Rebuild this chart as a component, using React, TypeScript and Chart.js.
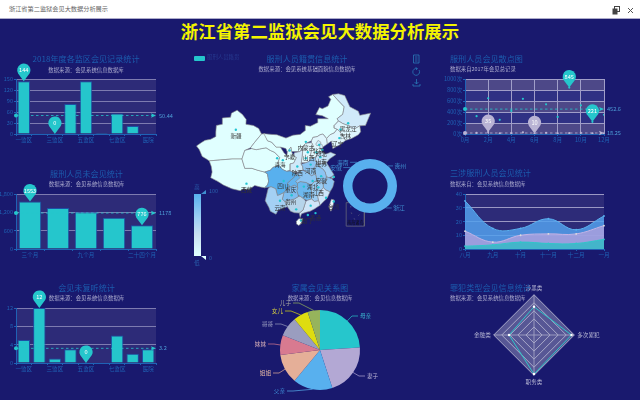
import React, { useEffect, useRef } from "react";
import { Chart, registerables } from "chart.js";

Chart.register(...registerables);

const FONT = '"Noto Sans CJK SC", "Noto Sans", sans-serif';
const BG = "#19196e";
const PLOT_BG = "#2d2b78";
const GRID = "#7d7bb0";
const TICK = "#1f62b5";
const TEAL = "#25c6cc";
const SILVER = "#b9b3d4";
const AXIS_FONT = { size: 5.6, family: FONT };

// ---------- data ----------
const PAGE_TITLE = "浙江省第二监狱会见大数据分析展示";
const WINDOW_TITLE = "浙江省第二监狱会见大数据分析展示";

const WARDS = ["一监区", "二监区", "三监区", "四监区", "五监区", "六监区", "七监区", "八监区", "医院"];
const WARD_VISITS = [144, 2, 0, 82, 144, 3, 56, 22, 1];
const WARD_VISITS_MEAN = 50.44;
const WARD_VISITS_TICKS = { max: 150, step: 30 };

const NO_VISIT_PERIODS = ["三个月", "六个月", "九个月", "十二个月", "二十四个月"];
const NO_VISIT_COUNTS = [1553, 1340, 1200, 1021, 776];
const NO_VISIT_MEAN = 1178;

const UNHEARD_COUNTS = [5, 12, 1, 3, 0, 0, 6, 2, 3];
const UNHEARD_MEAN = 3.2;

const MONTHS = [1, 2, 3, 4, 5, 6, 7, 8, 9, 10, 11, 12];
const SCATTER_HIGH = [325, 650, 258, 420, 640, 300, 540, 310, 845, 520, 221, 350];
const SCATTER_LOW = [20, 35, 12, 15, 30, 10, 22, 14, 18, 20, 12, 11];
const SCATTER_HIGH_MEAN = 452.6;
const SCATTER_LOW_MEAN = 18.25;

const AREA_MONTHS = ["八月", "九月", "十月", "十一月", "十二月", "一月"];
const AREA_BLUE = [35, 15, 15, 22, 14, 24];
const AREA_PURPLE = [13, 5, 10, 11, 11, 17];
const AREA_TEAL = [2, 3, 5, 4, 4, 7];

const CRIME_TYPES = ["涉黑类", "多次累犯", "职务类", "金融类"];
const CRIME_VALUES = [70, 93, 97, 62];

const RELATIONS = ["母亲", "妻子", "父亲", "姐姐", "妹妹", "哥哥", "女儿", "儿子"];
const RELATION_SHARE = [24, 21, 16, 12, 8, 8, 6, 5];
const RELATION_COLORS = ["#26c6cc", "#b3a8d4", "#58b0ee", "#e5af98", "#d87a90", "#9a9dbf", "#dedc10", "#96b45c"];
const RELATION_TEXT = ["#3cb8d0", "#b9b3d4", "#3f8fd8", "#e5b8a4", "#d8b0b8", "#a0a3c4", "#d8d040", "#a8a8a0"];

const RING_NAMES = ["海南", "安徽", "贵州", "浙江"];
const RING_VALUES = [0, 0, 0, 100];

// map outlines, [longitude, latitude]
const XINJIANG = [[73.5,39.5],[75,40.3],[76.5,41],[78.5,41.3],[80.2,42],[80.3,43.2],[80.5,45],[82.5,45.3],[82.6,47],[85.5,47.2],[85.8,48.3],[87.8,49.1],[89.7,47.9],[91,46.6],[90.9,45.3],[93.5,45],[95.4,44.2],[96.4,42.7],[94,40.5],[92.5,39],[90.5,38.3],[89.5,36],[86,36],[81,35.7],[78,35.5],[77,36],[75.5,36.7],[74.5,38.5]];
const TIBET = [[78.7,34],[79,32.5],[78.5,31],[81,30],[83,29],[86,28],[88.9,27.5],[90,28],[92,27.8],[94,28.9],[96,28.5],[97.5,28.3],[98.5,29],[98.9,30],[98.5,32],[97.5,32.5],[95,33],[93,33.5],[90.5,33.5],[89.5,36],[86,36],[81,35.7],[78,35.5]];
const QINGHAI = [[89.5,36],[90.5,38.3],[93,38.8],[94.5,38.5],[96.5,38.8],[98,39],[99.5,38.3],[101,37.8],[102.8,36.4],[102.4,35.5],[102.4,34.4],[101.5,34],[100.5,33.8],[99.5,33],[97.5,32.5],[95,33],[93,33.5],[90.5,33.5]];
const GANSU = [[92.5,39],[94,40.5],[96.4,42.7],[97.5,42.8],[98.5,40.9],[100,40.5],[101.5,39.2],[103,39.2],[104.3,37.7],[105.3,36.9],[106,36],[107.5,36.9],[108.7,36.4],[107.7,34.9],[106.5,34.7],[106.5,33],[105.2,32.7],[103.8,33.2],[102.4,34.4],[102.4,35.5],[102.8,36.4],[101,37.8],[99.5,38.3],[98,39],[96.5,38.8],[94.5,38.5],[93,38.8]];
const INNER_MONGOLIA = [[97.2,42.8],[100,42.6],[101.8,42.5],[105,41.6],[107.5,42.4],[110,42.6],[111.9,43.7],[111.8,45],[113.6,44.8],[116,45.7],[116.2,46.8],[119.9,46.8],[117.8,47.6],[115.5,47.9],[116.8,49.8],[117.8,49.5],[119.8,50.2],[120.8,52],[120,52.7],[121.5,53.3],[123,52],[125.5,50],[125,48],[123,46.8],[123.5,46.2],[122,45],[122,44.3],[123,44],[122,43],[120.5,42.5],[119.3,41.5],[118,42.7],[117,42.5],[116,42],[114.5,41.8],[114,40.9],[112,40.2],[111,39.4],[110,38],[107,38],[106.7,39.2],[105.5,37.8],[105,38.8],[103,39.2],[101.5,39.2],[100,40.5],[98.5,40.9]];
const HEILONGJIANG = [[121.5,53.3],[123.5,53.5],[125.7,53],[127.5,50],[130.5,48.8],[131,47.7],[134.8,48.3],[133,45],[131,44.9],[129,44],[127.5,44.8],[125,45.5],[123.5,46.2],[123,46.8],[125,48],[125.5,50],[123,52]];
const JILIN = [[123.5,46.2],[125,45.5],[127.5,44.8],[129,44],[131,44.9],[131.3,43.3],[130.5,42.5],[128.1,41.5],[126,41],[125,42.2],[123.8,43.5],[123,44],[122,44.3],[122,45]];
const LIAONING = [[124.4,40],[121.5,38.8],[121,40.8],[119.5,40],[119.3,41.5],[120.5,42.5],[122,43],[123,44],[123.8,43.5],[125,42.2],[126,41]];
const HEBEI = [[114,40.9],[114.5,41.8],[116,42],[117,42.5],[118,42.7],[119.3,41.5],[119.5,40],[118,39.2],[117.6,38.5],[117.5,38],[116,37.5],[115.5,36.5],[114.3,36.3],[113.6,37],[114,38.5],[114.5,39.7],[114,40.4]];
const BEIJING = [[115.5,40],[116.3,41],[117.3,40.5],[116.8,39.6],[115.8,39.6]];
const TIANJIN = [[116.9,40],[117.6,40],[118,39.2],[117.5,38.6],[116.9,39]];
const SHANXI = [[110.4,35],[110.8,37.5],[111,39.4],[112,40.2],[114,40.4],[114.5,39.7],[114,38.5],[113.6,37],[114.3,36.3],[113,35.3],[112,35]];
const SHANDONG = [[115.5,36.5],[116,37.5],[117.5,38],[119,37.3],[120.7,37.8],[122.6,37.2],[120.3,36],[119.3,35],[118,34.7],[116.5,34.8],[115.2,35.5]];
const HENAN = [[110.4,34.6],[112,35],[113,35.3],[114.3,36.3],[115.5,36.5],[115.2,35.5],[116.5,34.8],[115.5,34.5],[114.9,33],[115.4,32],[114,31.5],[112.5,32.4],[111,33.2],[110.9,34]];
const JIANGSU = [[116.5,34.8],[118,34.7],[119.3,35],[120.5,33.5],[121.9,31.8],[121,31.2],[120,31],[119.2,31.3],[118.8,32.5],[118,33.3],[116.4,34]];
const SHANGHAI = [[121,31.2],[121.9,31.5],[121.9,30.9],[121.1,30.8]];
const ANHUI = [[115.5,34.5],[116.5,34.8],[116.4,34],[118,33.3],[118.8,32.5],[119.2,31.3],[119.5,30.5],[118.2,29.4],[117,29.8],[116,30],[115.4,32],[114.9,33]];
const ZHEJIANG = [[119.2,31.3],[120,31],[121,30.8],[122,30],[121.5,28.5],[120.5,27.2],[119,27.7],[118.2,28.3],[118.2,29.4],[119.5,30.5]];
const FUJIAN = [[118.2,28.3],[119,27.7],[120.5,27.2],[119.5,25.5],[118,24.4],[117,23.6],[116.5,24.8],[116.2,26],[117.3,27.6]];
const JIANGXI = [[116,30],[117,29.8],[118.2,29.4],[118.2,28.3],[117.3,27.6],[116.2,26],[116.5,24.8],[115,24.6],[114,25.3],[114,27],[113.8,29],[115,29.9]];
const HUBEI = [[108.4,30],[109.2,32.5],[110.9,33],[112.5,32.4],[114,31.5],[115.4,32],[116,30],[115,29.9],[113.8,29],[112,29.7],[110,29.9],[109,29.5]];
const HUNAN = [[109,29.5],[110,29.9],[112,29.7],[113.8,29],[114,27],[114,25.3],[112.5,24.9],[111.3,25.3],[110,26],[109.3,26.3],[108.8,27.5],[109.2,28.3]];
const GUANGDONG = [[110.5,21.3],[110,20.3],[109.7,21.5],[111,22.3],[111.5,23.5],[112,24.7],[112.5,24.9],[114,25.3],[115,24.6],[116.5,24.8],[117,23.6],[115,22.6],[113.5,22],[112,21.7]];
const GUANGXI = [[104.5,24.7],[106,24.9],[108,25.3],[109.5,26],[110,26],[111.3,25.3],[112,24.7],[111.5,23.5],[111,22.3],[109.7,21.5],[108,21.6],[106.6,22],[105.5,23.2]];
const HAINAN = [[108.7,19.3],[109.5,20],[110.9,20],[110.5,18.8],[109.5,18.2],[108.7,18.6]];
const GUIZHOU = [[103.7,25.2],[104.5,24.7],[106,24.9],[108,25.3],[109.5,26],[109.3,26.3],[108.8,27.5],[109.2,28.3],[108,29],[106.5,28.5],[105.3,28],[104.3,27]];
const CHONGQING = [[105.5,29.5],[106.5,28.5],[108,29],[109.2,28.3],[109,29.5],[108.4,30],[110,31],[109,32],[107.7,31],[106.5,30.2]];
const SICHUAN = [[97.5,28.3],[98.5,29],[98.9,30],[98.5,32],[97.5,32.5],[99.5,33],[100.5,33.8],[101.5,34],[102.4,34.4],[103.8,33.2],[105.2,32.7],[106.5,32.8],[108,32.3],[109,32],[107.7,31],[106.5,30.2],[105.5,29.5],[106.5,28.5],[105.3,28],[104.3,27],[103,26.5],[102,26.2],[101.4,28],[100,28.5],[99.3,28.5]];
const YUNNAN = [[98.7,28],[97.7,24.8],[99,23],[99.5,22],[101.5,21.2],[102.3,22.4],[104.5,23],[105.5,23.2],[104.5,24.7],[103.7,25.2],[104.3,27],[103,26.5],[102,26.2],[101.4,28],[100,28.5],[99.3,28.5]];
const SHAANXI = [[111,39.4],[110.8,37.5],[110.4,35],[110.4,34.6],[110.9,34],[111,33.2],[110.9,33],[109.2,32.5],[108,32.3],[106.5,32.8],[106.5,34.7],[107.7,34.9],[108.7,36.4],[107.5,36.9],[108,37.7],[110,38]];
const NINGXIA = [[105.3,36.9],[106,36],[107.5,36.9],[107,38],[106.7,39.2],[105.5,37.8]];
const TAIWAN = [[121,25.2],[122,25],[121.4,23],[120.8,22],[120.1,23.2]];

const PROVINCE_LAYERS: [number[][], string][] = [
  [XINJIANG, "#e0ffff"], [TIBET, "#e0ffff"], [QINGHAI, "#e0ffff"], [GANSU, "#e0ffff"],
  [INNER_MONGOLIA, "#e0ffff"], [HEILONGJIANG, "#d0eafa"], [JILIN, "#dff6fd"], [LIAONING, "#dff6fd"],
  [HEBEI, "#e0f6fd"], [SHANXI, "#e0f6fd"], [SHAANXI, "#cfe9f9"], [NINGXIA, "#e0ffff"],
  [SHANDONG, "#c4e2f8"], [HENAN, "#8cc4f2"], [JIANGSU, "#a4d2f5"], [ANHUI, "#8cc4f2"],
  [HUBEI, "#8cc4f2"], [HUNAN, "#6cb8ee"], [JIANGXI, "#9ccdf3"], [ZHEJIANG, "#8cc4f2"],
  [FUJIAN, "#cde5f9"], [GUANGDONG, "#cfe5f8"], [GUANGXI, "#b6d4ea"], [GUIZHOU, "#7fbdf0"],
  [SICHUAN, "#58b0ee"], [CHONGQING, "#64b4ee"], [YUNNAN, "#a4d0f4"], [HAINAN, "#f4ffff"],
  [BEIJING, "#d0ecfb"], [TIANJIN, "#d0ecfb"], [SHANGHAI, "#b0d8f6"], [TAIWAN, "#f0f8ff"],
];

const INSET_BOX = [[126.2,24.3],[132.6,24.3],[132.6,18],[126.2,18],[126.2,24.3]];
const INSET_DASHES = [[127.8,23.4],[128,21.6],[129.2,19.8],[131,21.2],[131.6,23]];

const MAP_DOTS = [[87.35,43.86],[126.9,45.6],[124.2,43.9],[123.8,41.6],[112,40.6],[116.7,39.8],[115.7,37.8],[117.8,38.5],[117.1,36.5],[112.7,37.8],[106.3,38.3],[101.9,36.2],[103.9,35.7],[113.7,34.5],[112,36.2],[109,34],[117.4,31.4],[114.4,30.1],[104.2,30.1],[91.1,29.4],[107,26.3],[111.3,28.6],[116.4,28.4],[121.8,31.2],[102.9,24.8],[108.6,22.5],[113.7,23.5],[119.1,25.6],[121.8,24.6],[115.4,21.5],[112.7,21],[110.3,19.5]];

const MAP_LABELS: [string, number, number][] = [
  ["新疆",87.4,42.1],["西藏",91.1,27.6],["青海",102.9,34.5],["宁夏",106.3,36.7],["内蒙古",112,39],
  ["黑龙江",126.9,44.1],["吉林",125.9,42.3],["辽宁",123.2,40],["北京",116.4,38.3],["河北",117.4,37.5],
  ["山西",113,36.2],["山东",117.4,35.2],["江苏",117.4,34.7],["陕西",109,32.4],["河南",113.7,32.9],
  ["安徽",117.4,30.1],["湖北",114.4,28.6],["四川",103.9,28.9],["重庆",106.6,27.6],["湖南",113,26.3],
  ["江西",116.4,26.9],["贵州",106.6,24.6],["云南",102.9,23],["台湾",121.8,23.2],["香港",115.4,20.2],["澳门",112,19.5],
];
const INSET_LABEL: [string, number, number] = ["南海诸岛", 129.4, 19];

// ---------- plugins ----------
type Pin = { x: number; y: number; text: string; color: string };
type Guide = { y: number; text: string; color: string };

function decor(opts: { bands?: boolean; pins?: Pin[]; guides?: Guide[] }) {
  return {
    id: "decor",
    beforeDraw(chart: any) {
      const { ctx, chartArea: a, scales } = chart;
      ctx.save();
      ctx.fillStyle = PLOT_BG;
      ctx.fillRect(a.left, a.top, a.right - a.left, a.bottom - a.top);
      if (opts.bands) {
        const ys = scales.y.ticks.map((t: any) => scales.y.getPixelForValue(t.value));
        ys.forEach((y: number, i: number) => {
          if (i === 0) return;
          ctx.fillStyle = i % 2 ? "#4d4888" : "#2f3184";
          ctx.fillRect(a.left, y, a.right - a.left, ys[i - 1] - y);
        });
      }
      ctx.restore();
    },
    afterDatasetsDraw(chart: any) {
      const { ctx, chartArea: a, scales } = chart;
      ctx.save();
      (opts.guides || []).forEach((g) => {
        const y = scales.y.getPixelForValue(g.y);
        ctx.strokeStyle = g.color;
        ctx.lineWidth = 0.8;
        ctx.setLineDash([2.5, 2.5]);
        ctx.beginPath();
        ctx.moveTo(a.left, y);
        ctx.lineTo(a.right, y);
        ctx.stroke();
        ctx.setLineDash([]);
        ctx.fillStyle = g.color;
        ctx.beginPath();
        ctx.arc(a.left, y, 2, 0, Math.PI * 2);
        ctx.fill();
        ctx.beginPath();
        ctx.moveTo(a.right, y);
        ctx.lineTo(a.right - 5, y - 2.2);
        ctx.lineTo(a.right - 4, y);
        ctx.lineTo(a.right - 5, y + 2.2);
        ctx.closePath();
        ctx.fill();
        ctx.fillStyle = "#4e9fd8";
        ctx.font = `5.6px ${FONT}`;
        ctx.textAlign = "left";
        ctx.textBaseline = "middle";
        ctx.fillText(g.text, a.right + 3, y);
      });
      (opts.pins || []).forEach((p) => {
        const x = scales.x.getPixelForValue(p.x);
        const y = scales.y.getPixelForValue(p.y);
        const r = 6.6;
        const cy = y - 11;
        ctx.fillStyle = p.color;
        ctx.beginPath();
        ctx.arc(x, cy, r, Math.PI * 0.83, Math.PI * 0.17);
        ctx.lineTo(x, y);
        ctx.closePath();
        ctx.fill();
        ctx.fillStyle = "#ffffff";
        ctx.font = `5.6px ${FONT}`;
        ctx.textAlign = "center";
        ctx.textBaseline = "middle";
        ctx.fillText(p.text, x, cy);
      });
      ctx.restore();
    },
  };
}

const fixedX = (h: number) => (s: any) => { s.height = h; };
const fixedY = (w: number) => (s: any) => { s.width = w; };

function barConfig(labels: string[], values: number[], max: number, step: number, every: number, pins: Pin[], guides: Guide[], padTop: number, padRight: number, yW: number, xH: number) {
  return {
    type: "bar",
    data: {
      labels,
      datasets: [{ data: values, backgroundColor: TEAL, borderColor: "#1d50a5", borderWidth: 1, barPercentage: 0.8, categoryPercentage: 1 }],
    },
    options: {
      layout: { padding: { top: padTop, right: padRight, left: 0, bottom: 0 } },
      plugins: { legend: { display: false }, tooltip: { enabled: false } },
      scales: {
        x: {
          afterFit: fixedX(xH),
          grid: { display: true, drawOnChartArea: false, color: TICK, tickLength: 2 },
          border: { color: TICK },
          ticks: {
            color: TICK, font: AXIS_FONT, autoSkip: false, maxRotation: 0, padding: 1,
            callback(this: any, _v: any, i: number) { return i % every === 0 ? labels[i] : ""; },
          },
        },
        y: {
          afterFit: fixedY(yW), min: 0, max,
          grid: { color: GRID, tickLength: 2, tickColor: TICK },
          border: { color: TICK },
          ticks: { color: TICK, font: AXIS_FONT, stepSize: step, padding: 1 },
        },
      },
    },
    plugins: [decor({ pins, guides })],
  };
}

const scatterConfig = {
  type: "scatter",
  data: {
    datasets: [
      { data: MONTHS.map((m, i) => ({ x: m, y: SCATTER_HIGH[i] })), backgroundColor: TEAL, pointRadius: 1.1, borderWidth: 0 },
      { data: MONTHS.map((m, i) => ({ x: m, y: SCATTER_LOW[i] })), backgroundColor: SILVER, pointRadius: 1.1, borderWidth: 0 },
    ],
  },
  options: {
    layout: { padding: { top: 29, right: 36, left: 0, bottom: 0 } },
    plugins: { legend: { display: false }, tooltip: { enabled: false } },
    scales: {
      x: {
        type: "linear", min: 0, max: 12, afterFit: fixedX(16),
        grid: { color: "#a09ec8", tickLength: 2, tickColor: TICK },
        border: { color: TICK },
        ticks: { stepSize: 2, color: TICK, font: AXIS_FONT, padding: 1, maxRotation: 0, callback: (v: any) => `${v}月` },
      },
      y: {
        min: 0, max: 1000, afterFit: fixedY(35),
        grid: { color: "#a09ec8", tickLength: 2, tickColor: TICK },
        border: { color: TICK },
        ticks: { stepSize: 200, color: TICK, font: AXIS_FONT, padding: 1, callback: (v: any) => `${v}次` },
      },
    },
  },
  plugins: [
    decor({
      bands: true,
      guides: [
        { y: SCATTER_HIGH_MEAN, text: "452.6", color: TEAL },
        { y: SCATTER_LOW_MEAN, text: "18.25", color: SILVER },
      ],
      pins: [
        { x: 9, y: 845, text: "845", color: TEAL },
        { x: 11, y: 221, text: "221", color: TEAL },
        { x: 2, y: 35, text: "35", color: SILVER },
        { x: 6, y: 10, text: "10", color: SILVER },
      ],
    }),
  ],
};

const areaConfig = {
  type: "line",
  data: {
    labels: AREA_MONTHS,
    datasets: [
      { data: AREA_TEAL, order: 1, borderColor: "#2ec7c9", backgroundColor: "rgba(38,190,195,0.75)", fill: "origin", tension: 0.4, borderWidth: 1, pointRadius: 0.9, pointBackgroundColor: "#2ec7c9", pointBorderWidth: 0 },
      { data: AREA_PURPLE, order: 2, borderColor: "#c4b4e6", backgroundColor: "rgba(182,162,222,0.75)", fill: "origin", tension: 0.4, borderWidth: 1, pointRadius: 0.9, pointBackgroundColor: "#ddd", pointBorderWidth: 0 },
      { data: AREA_BLUE, order: 3, borderColor: "#5ab1ef", backgroundColor: "rgba(84,160,236,0.85)", fill: "origin", tension: 0.4, borderWidth: 1, pointRadius: 0.9, pointBackgroundColor: "#5ab1ef", pointBorderWidth: 0 },
    ],
  },
  options: {
    layout: { padding: { top: 14, right: 36, left: 0, bottom: 0 } },
    plugins: { legend: { display: false }, tooltip: { enabled: false } },
    scales: {
      x: {
        afterFit: fixedX(16),
        grid: { display: true, drawOnChartArea: false, color: TICK, tickLength: 2 },
        border: { color: TICK },
        ticks: { color: TICK, font: AXIS_FONT, padding: 1, maxRotation: 0 },
      },
      y: {
        min: 0, max: 40, afterFit: fixedY(35),
        grid: { color: "#9a98c4", tickLength: 2, tickColor: TICK },
        border: { color: TICK },
        ticks: { stepSize: 10, color: TICK, font: AXIS_FONT, padding: 1 },
      },
    },
  },
  plugins: [decor({})],
};

const radarConfig = {
  type: "radar",
  data: {
    labels: CRIME_TYPES,
    datasets: [
      { data: CRIME_VALUES, borderColor: "#2ec7c9", borderWidth: 1, backgroundColor: "transparent", pointRadius: 1.2, pointBackgroundColor: "#ffffff", pointBorderWidth: 0 },
    ],
  },
  options: {
    layout: { padding: 0 },
    plugins: { legend: { display: false }, tooltip: { enabled: false } },
    scales: {
      r: {
        min: 0, max: 100,
        backgroundColor: "rgba(255,255,255,0.27)",
        grid: { color: "#a9a9c9", lineWidth: 1 },
        angleLines: { color: "#a9a9c9", lineWidth: 0.8 },
        ticks: { display: false, stepSize: 20 },
        pointLabels: { color: "#b8b8d4", font: { size: 5.6, family: FONT }, padding: 3 },
      },
    },
  },
};

const PIE_ENDS = [[38,-34,1],[45,26,1],[-33,41,-1],[-47,23,-1],[-52,-6,-1],[-45,-26,-1],[-35,-39,-1],[-27,-47,-1]];
const pieLabels = {
  id: "pieLabels",
  afterDatasetsDraw(chart: any) {
    const { ctx } = chart;
    ctx.save();
    chart.getDatasetMeta(0).data.forEach((arc: any, i: number) => {
      const mid = (arc.startAngle + arc.endAngle) / 2;
      const [dx, dy, side] = PIE_ENDS[i];
      const sx = arc.x + Math.cos(mid) * arc.outerRadius;
      const sy = arc.y + Math.sin(mid) * arc.outerRadius;
      const ex = arc.x + dx;
      const ey = arc.y + dy;
      ctx.strokeStyle = RELATION_COLORS[i];
      ctx.lineWidth = 0.7;
      ctx.beginPath();
      ctx.moveTo(sx, sy);
      ctx.lineTo(ex - side * 6, ey);
      ctx.lineTo(ex, ey);
      ctx.stroke();
      ctx.fillStyle = RELATION_TEXT[i];
      ctx.font = `5.6px ${FONT}`;
      ctx.textBaseline = "middle";
      ctx.textAlign = side > 0 ? "left" : "right";
      ctx.fillText(RELATIONS[i], ex + side * 2, ey);
    });
    ctx.restore();
  },
};

const pieConfig = {
  type: "pie",
  data: {
    labels: RELATIONS,
    datasets: [{ data: RELATION_SHARE, backgroundColor: RELATION_COLORS, borderWidth: 0 }],
  },
  options: {
    layout: { padding: 15 },
    plugins: { legend: { display: false }, tooltip: { enabled: false } },
  },
  plugins: [pieLabels],
};

const mapText = {
  id: "mapText",
  afterDatasetsDraw(chart: any) {
    const { ctx, scales } = chart;
    ctx.save();
    ctx.fillStyle = "#333333";
    ctx.font = `5.6px ${FONT}`;
    ctx.textAlign = "center";
    ctx.textBaseline = "middle";
    MAP_LABELS.forEach(([t, lon, lat]) => {
      ctx.fillText(t, scales.x.getPixelForValue(lon), scales.y.getPixelForValue(lat));
    });
    ctx.fillStyle = "#111111";
    ctx.font = `4.2px ${FONT}`;
    ctx.fillText(INSET_LABEL[0], scales.x.getPixelForValue(INSET_LABEL[1]), scales.y.getPixelForValue(INSET_LABEL[2]));
    ctx.restore();
  },
};

const mapConfig = {
  type: "scatter",
  data: {
    datasets: [
      { data: MAP_DOTS.map(([x, y]) => ({ x, y })), order: -1, backgroundColor: "#22c4d2", pointRadius: 1.2, borderWidth: 0, showLine: false },
      { data: INSET_BOX.map(([x, y]) => ({ x, y })), order: 0, showLine: true, fill: false, borderColor: "#666677", borderWidth: 0.8, pointRadius: 0 },
      { data: INSET_DASHES.map(([x, y]) => ({ x, y })), order: 0, showLine: true, fill: false, borderColor: "#777788", borderWidth: 0.6, borderDash: [1.5, 5], pointRadius: 0 },
      ...PROVINCE_LAYERS.map(([pts, color], i) => ({
        data: [...pts, pts[0]].map(([x, y]) => ({ x, y })),
        order: PROVINCE_LAYERS.length - i,
        showLine: true,
        fill: "shape",
        backgroundColor: color,
        borderColor: "#8b8b8b",
        borderWidth: 0.6,
        pointRadius: 0,
      })),
    ],
  },
  options: {
    layout: { padding: 0 },
    plugins: { legend: { display: false }, tooltip: { enabled: false } },
    scales: {
      x: { type: "linear", display: false, min: 69.1, max: 136.7 },
      y: { type: "linear", display: false, min: 16.7, max: 54.77 },
    },
  },
  plugins: [mapText],
};

const RING_LINES = [
  { name: 0, angle: -2.07, len: 7 },
  { name: 1, angle: -2.39, len: 7 },
  { name: 2, angle: -0.84, len: 5 },
  { name: 3, angle: 0.95, len: 6 },
];
const ringLabels = {
  id: "ringLabels",
  afterDatasetsDraw(chart: any) {
    const { ctx } = chart;
    const arc = chart.getDatasetMeta(0).data[3];
    ctx.save();
    ctx.font = `5.8px ${FONT}`;
    ctx.strokeStyle = "#3f8fd0";
    ctx.fillStyle = "#3f8fd0";
    ctx.lineWidth = 0.7;
    ctx.textBaseline = "middle";
    RING_LINES.forEach((l) => {
      const r = arc.outerRadius;
      const sx = arc.x + Math.cos(l.angle) * r;
      const sy = arc.y + Math.sin(l.angle) * r;
      const dir = Math.cos(l.angle) > 0 ? 1 : -1;
      ctx.beginPath();
      ctx.moveTo(sx, sy);
      ctx.lineTo(sx + dir * l.len, sy);
      ctx.stroke();
      ctx.textAlign = dir > 0 ? "left" : "right";
      ctx.fillText(RING_NAMES[l.name], sx + dir * (l.len + 1.5), sy);
    });
    ctx.restore();
  },
};

const ringConfig = {
  type: "doughnut",
  data: {
    labels: RING_NAMES,
    datasets: [{ data: RING_VALUES, backgroundColor: "#58b0ee", borderWidth: 0 }],
  },
  options: {
    cutout: "65%",
    layout: { padding: 13 },
    plugins: { legend: { display: false }, tooltip: { enabled: false } },
  },
  plugins: [ringLabels],
};

const wardConfig = barConfig(WARDS, WARD_VISITS, WARD_VISITS_TICKS.max, WARD_VISITS_TICKS.step, 2,
  [{ x: 0, y: WARD_VISITS[0], text: "144", color: TEAL }, { x: 2, y: WARD_VISITS[2], text: "0", color: TEAL }],
  [{ y: WARD_VISITS_MEAN, text: "50.44", color: TEAL }], 29, 34, 16, 16);
const noVisitConfig = barConfig(NO_VISIT_PERIODS, NO_VISIT_COUNTS, 1800, 300, 2,
  [{ x: 0, y: NO_VISIT_COUNTS[0], text: "1553", color: TEAL }, { x: 4, y: NO_VISIT_COUNTS[4], text: "776", color: TEAL }],
  [{ y: NO_VISIT_MEAN, text: "1178", color: TEAL }], 29, 34, 16, 16);
const unheardConfig = barConfig(WARDS, UNHEARD_COUNTS, 12, 2, 2,
  [{ x: 1, y: UNHEARD_COUNTS[1], text: "12", color: TEAL }, { x: 4, y: UNHEARD_COUNTS[4], text: "0", color: TEAL }],
  [{ y: UNHEARD_MEAN, text: "3.2", color: TEAL }], 23, 34, 16, 16);

// ---------- components ----------
function Plot({ left, top, width, height, config }: any) {
  const ref = useRef<HTMLCanvasElement>(null);
  useEffect(() => {
    const chart = new Chart(ref.current as any, {
      ...config,
      options: { responsive: false, animation: false, maintainAspectRatio: false, ...config.options },
    });
    return () => chart.destroy();
  }, [config]);
  return <canvas ref={ref} width={width} height={height} style={{ position: "absolute", left, top, width, height }} />;
}

function Heading({ title, sub, x, y, subY, center }: any) {
  const base: any = { position: "absolute", whiteSpace: "nowrap", lineHeight: 1, transform: center ? "translate(-50%,-50%)" : "translateY(-50%)", left: x };
  return (
    <>
      <div style={{ ...base, top: y, color: "#1c5cae", fontSize: 8.1 }}>{title}</div>
      <div style={{ ...base, top: subY, color: "#a8a8cc", fontSize: 5.4 }}>{sub}</div>
    </>
  );
}

export default function App() {
  return (
    <div style={{ position: "fixed", left: 0, top: 0, width: 640, height: 400, overflow: "hidden", background: BG, fontFamily: FONT }}>
      <div style={{ position: "absolute", left: 0, top: 0, width: 640, height: 18, background: "#ffffff", borderBottom: "1px solid #aeaccb" }}>
        <div style={{ position: "absolute", left: 9, top: 5.5, fontSize: 6.2, lineHeight: 1, color: "#666" }}>{WINDOW_TITLE}</div>
        <svg width="30" height="10" style={{ position: "absolute", left: 611, top: 6 }}>
          <rect x="3.5" y="0.5" width="5" height="5" fill="none" stroke="#444" />
          <rect x="1.5" y="2.5" width="5" height="6" fill="#444" />
          <path d="M17 2 L22 7 M22 2 L17 7" stroke="#555" strokeWidth="1" />
        </svg>
      </div>
      <div style={{ position: "absolute", left: 320, top: 31, transform: "translate(-50%,-50%)", color: "#f4f400", fontWeight: 700, fontSize: 17.4, lineHeight: 1, whiteSpace: "nowrap" }}>{PAGE_TITLE}</div>

      <Plot left={0} top={50} width={190} height={100} config={wardConfig} />
      <Plot left={0} top={165} width={190} height={100} config={noVisitConfig} />
      <Plot left={0} top={285} width={190} height={94} config={unheardConfig} />
      <Plot left={430} top={50} width={210} height={100} config={scatterConfig} />
      <Plot left={430} top={180} width={210} height={85} config={areaConfig} />
      <Plot left={180} top={85} width={200} height={150} config={mapConfig} />
      <Plot left={325} top={146} width={90} height={80} config={ringConfig} />
      <Plot left={225} top={295} width={190} height={110} config={pieConfig} />
      <Plot left={460} top={285} width={150} height={100} config={radarConfig} />

      <Heading title="2018年度各监区会见记录统计" sub="数据来源：会见系统信息数据库" x={86} y={59} subY={71} center />
      <Heading title="服刑人员未会见统计" sub="数据来源：会见系统信息数据库" x={86.5} y={174} subY={185} center />
      <Heading title="会见未复听统计" sub="数据来源：会见系统信息数据库" x={86.5} y={288} subY={299} center />
      <Heading title="服刑人员籍贯信息统计" sub="数据来源：会见系统基础面貌信息数据库" x={307} y={59} subY={70} center />
      <Heading title="家属会见关系图" sub="数据来源：会见信息数据库" x={320} y={288} subY={299} center />
      <Heading title="服刑人员会见散点图" sub="数据来自2017年会见总记录" x={450} y={59} subY={70} />
      <Heading title="三涉服刑人员会见统计" sub="数据来自：会见系统信息数据库" x={450} y={173} subY={185} />
      <Heading title="罪犯类型会见信息统计" sub="数据来源：会见系统信息数据库" x={450} y={288} subY={299} />

      <div style={{ position: "absolute", left: 194, top: 55.5, width: 11, height: 5.5, background: TEAL, borderRadius: 1 }} />
      <div style={{ position: "absolute", left: 207, top: 58.2, transform: "translateY(-50%)", fontSize: 5.4, lineHeight: 1, color: "#26388e" }}>服刑人员籍贯</div>

      <svg width="10" height="36" style={{ position: "absolute", left: 412, top: 54 }} fill="none" stroke="#2a78b8" strokeWidth="0.8">
        <path d="M1.5 1 H7 V9 H1.5 Z M3 3 H5.5 M3 5 H5.5 M3 7 H5.5" />
        <path d="M7 16 A3.4 3.4 0 1 1 5 14.6 M3.5 13.4 L5.5 14.6 L4 16" />
        <path d="M4.5 25 V30 M2.6 28 L4.5 30 L6.4 28 M1 30 V32 H8 V30" />
      </svg>

      <div style={{ position: "absolute", left: 194, top: 194, width: 7, height: 62, background: "linear-gradient(#58b0ee, #a0d0f4 40%, #c8dff0 65%, #e0ffff)" }} />
      <div style={{ position: "absolute", left: 201, top: 190, width: 5, height: 4, background: "#3f8fd0", clipPath: "polygon(100% 0, 100% 100%, 0 100%)" }} />
      <div style={{ position: "absolute", left: 201, top: 256, width: 5, height: 4, background: "#e0ffff", clipPath: "polygon(0 0, 100% 0, 100% 100%)" }} />
      <div style={{ position: "absolute", left: 197, top: 188, transform: "translate(-50%,-50%)", fontSize: 5.4, lineHeight: 1, color: "#2a62b0" }}>高</div>
      <div style={{ position: "absolute", left: 197, top: 264, transform: "translate(-50%,-50%)", fontSize: 5.4, lineHeight: 1, color: "#2a62b0" }}>低</div>
      <div style={{ position: "absolute", left: 209, top: 192, transform: "translateY(-50%)", fontSize: 5.4, lineHeight: 1, color: "#2a62b0" }}>100</div>
      <div style={{ position: "absolute", left: 209, top: 259, transform: "translateY(-50%)", fontSize: 5.4, lineHeight: 1, color: "#2a62b0" }}>0</div>
    </div>
  );
}
